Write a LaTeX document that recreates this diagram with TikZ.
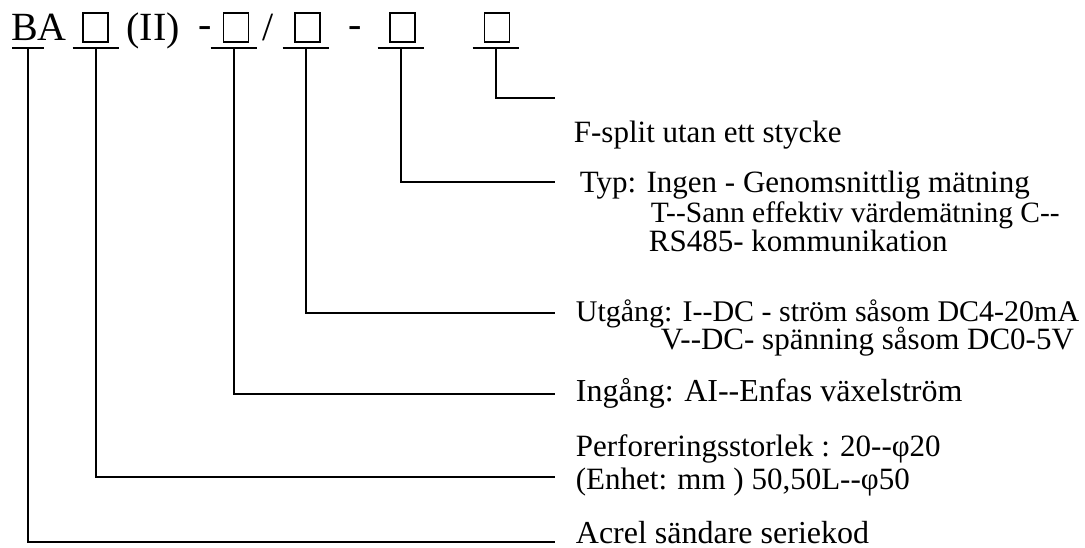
\documentclass[tikz,border=0pt]{standalone}
\usepackage{fontspec}
\setmainfont{Liberation Serif}[Ligatures=TeXOff]
\usetikzlibrary{positioning}

\begin{document}
\begin{tikzpicture}[x=1pt, y=-1pt, line width=1.8pt,
                code/.style={inner sep=0pt, anchor=base, font=\fontsize{40}{40}\selectfont},
                slot/.style={draw, line width=1.4pt, minimum width=25pt, minimum height=29pt, inner sep=0pt},
                bar/.style={inner sep=0pt, minimum width=45pt},
                desc/.style={inner sep=0pt, anchor=base west, font=\fontsize{31}{31}\selectfont}]
                \useasboundingbox (0,0) rectangle (1085,548);

                \node[code] (ba) at (39,41) {BA};
                \node[slot] (s1) at (95.5,27.5) {};
                \node[code] (roman) at (153,41) {(II)};
                \node[code] (d1) at (205.5,38) {-};
                \node[slot] (s2) at (236,27.5) {};
                \node[code] (sl) at (268,41) {/};
                \node[slot] (s3) at (307.5,27.5) {};
                \node[code] (d2) at (355,38) {-};
                \node[slot] (s4) at (402.5,27.5) {};
                \node[slot] (s5) at (497,27.5) {};

                \node[bar, minimum width=30pt] (u0) at (28,48) {};
                \node[bar] (u1) at (96,48) {};
                \node[bar] (u2) at (234,48) {};
                \node[bar] (u3) at (306,48) {};
                \node[bar] (u4) at (401,48) {};
                \node[bar] (u5) at (496,48) {};

                \coordinate (e0) at (555,542);
                \coordinate (e1) at (555,477);
                \coordinate (e2) at (555,394);
                \coordinate (e3) at (555,313);
                \coordinate (e4) at (555,182);
                \coordinate (e5) at (555,98);

                \node[desc] (split) at (573,143) {F-split utan ett stycke};
                \node[desc] (typ) at (579,193) {Typ: Ingen - Genomsnittlig mätning};
                \node[desc, font=\fontsize{29.5}{29.5}\selectfont] (typt) at (650,223) {T--Sann effektiv värdemätning C--};
                \node[desc] (typc) at (648,252) {RS485- kommunikation};
                \node[desc, font=\fontsize{30}{30}\selectfont] (out) at (575,321) {Utgång: I--DC - ström såsom DC4-20mA};
                \node[desc] (outv) at (660,349) {V--DC- spänning såsom DC0-5V};
                \node[desc, font=\fontsize{32}{32}\selectfont] (in) at (575,401) {Ingång: AI--Enfas växelström};
                \node[desc] (size) at (575,456) {Perforeringsstorlek : 20--φ20};
                \node[desc] (sizeb) at (575,489) {(Enhet: mm ) 50,50L--φ50};
                \node[desc, font=\fontsize{32}{32}\selectfont] (ser) at (575,543) {Acrel sändare seriekod};

                \draw (u0.west) -- (u0.east) (u0.center) |- (e0);
                \draw (u1.west) -- (u1.east) (u1.center) |- (e1);
                \draw (u2.west) -- (u2.east) (u2.center) |- (e2);
                \draw (u3.west) -- (u3.east) (u3.center) |- (e3);
                \draw (u4.west) -- (u4.east) (u4.center) |- (e4);
                \draw (u5.west) -- (u5.east) (u5.center) |- (e5);
            \end{tikzpicture}
\end{document}
